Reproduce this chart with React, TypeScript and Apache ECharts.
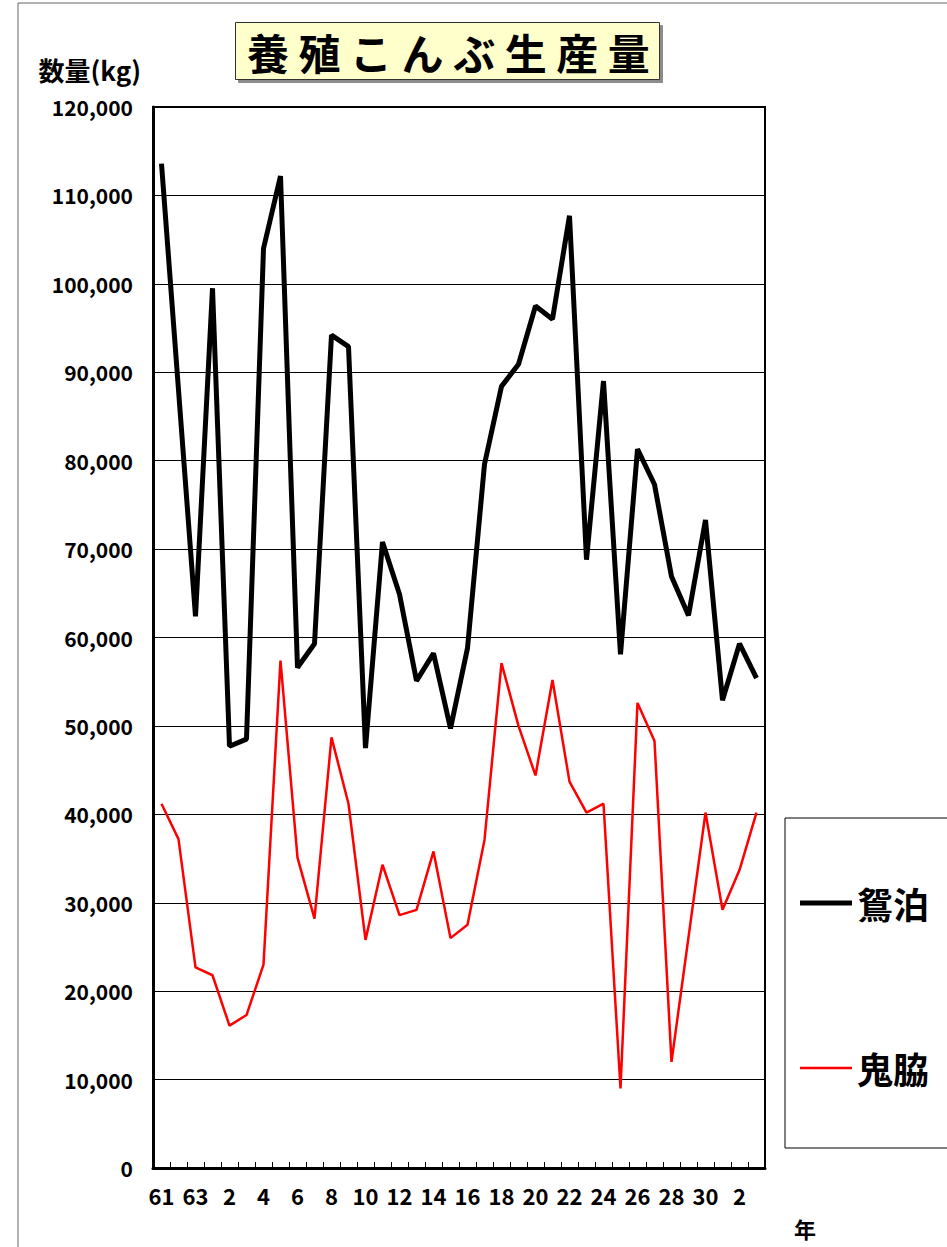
import React, { useEffect, useRef } from "react";
import * as echarts from "echarts";

// 年度（昭和61年〜令和3年）
const categories = [
  "昭和61", "昭和62", "昭和63", "平成元", "平成2", "平成3", "平成4", "平成5", "平成6",
  "平成7", "平成8", "平成9", "平成10", "平成11", "平成12", "平成13", "平成14", "平成15",
  "平成16", "平成17", "平成18", "平成19", "平成20", "平成21", "平成22", "平成23", "平成24",
  "平成25", "平成26", "平成27", "平成28", "平成29", "平成30", "令和元", "令和2", "令和3",
];
const tickLabels = [
  "61", "62", "63", "元", "2", "3", "4", "5", "6", "7", "8", "9", "10", "11", "12", "13", "14",
  "15", "16", "17", "18", "19", "20", "21", "22", "23", "24", "25", "26", "27", "28", "29",
  "30", "元", "2", "3",
];

// 鴛泊 (kg)
const oshidomari = [
  113600, 88000, 62400, 99500, 47700, 48500, 104000, 112200, 56600, 59300, 94200, 92900,
  47500, 70800, 64900, 55100, 58200, 49700, 58800, 79600, 88400, 90900, 97500, 96000,
  107700, 68800, 89000, 58100, 81300, 77300, 66900, 62500, 73300, 52900, 59300, 55400,
];
// 鬼脇 (kg)
const oniwaki = [
  41200, 37200, 22700, 21800, 16100, 17300, 23000, 57400, 35100, 28200, 48700, 41200,
  25800, 34300, 28600, 29200, 35800, 26000, 27500, 37100, 57100, 50000, 44400, 55200,
  43700, 40200, 41200, 9000, 52600, 48300, 12000, 26100, 40200, 29200, 33700, 40200,
];

const FONT = "'Noto Sans CJK JP', 'Noto Sans', sans-serif";

export default function App() {
  const ref = useRef<HTMLDivElement>(null);
  useEffect(() => {
    const chart = echarts.init(ref.current as HTMLDivElement, null, { renderer: "svg" });
    chart.setOption({
      animation: false,
      backgroundColor: "#ffffff",
      textStyle: { fontFamily: FONT },
      title: {
        text: "養 殖 こ ん ぶ 生 産 量",
        left: 235,
        top: 22,
        padding: [8, 10, 8, 12],
        backgroundColor: "#FFFFCC",
        borderColor: "#333333",
        borderWidth: 1,
        shadowColor: "rgba(0,0,0,0.45)",
        shadowOffsetX: 3,
        shadowOffsetY: 3,
        shadowBlur: 0,
        textStyle: { fontSize: 42, fontWeight: "bold", color: "#000", fontFamily: FONT },
      },
      legend: {
        orient: "vertical",
        left: 785,
        top: 818,
        padding: [67, 60, 62, 15],
        itemGap: 129,
        itemWidth: 52,
        itemHeight: 20,
        borderColor: "#000",
        borderWidth: 1,
        backgroundColor: "#fff",
        itemStyle: { borderWidth: 0 },
        textStyle: { fontSize: 36, fontWeight: "bold", color: "#000", fontFamily: FONT },
        data: [
          { name: "鴛泊", icon: "path://M0,0H52V5H0Z" },
          { name: "鬼脇", icon: "path://M0,0H52V2.5H0Z" },
        ],
      },
      graphic: [
        {
          type: "rect",
          silent: true,
          z: -10,
          shape: { x: 18, y: 3, width: 1000, height: 1300 },
          style: { fill: "none", stroke: "#666666", lineWidth: 1 },
        },
        {
          type: "text",
          silent: true,
          x: 805,
          y: 1228,
          style: {
            text: "年",
            fontSize: 22,
            fontWeight: "bold",
            fill: "#000",
            align: "center",
            verticalAlign: "middle",
            fontFamily: FONT,
          },
        },
      ],
      grid: {
        left: 153,
        top: 107,
        width: 612,
        height: 1061,
        show: true,
        borderColor: "#000",
        borderWidth: 2,
        backgroundColor: "transparent",
      },
      xAxis: {
        type: "category",
        data: categories,
        boundaryGap: true,
        axisLine: { lineStyle: { color: "#000", width: 3 } },
        axisTick: { show: true, inside: true, length: 6, interval: 0, lineStyle: { color: "#000", width: 1 } },
        axisLabel: {
          interval: 1,
          formatter: (_v: string, i: number) => tickLabels[i],
          fontSize: 22,
          fontWeight: "bold",
          color: "#000",
          margin: 16,
          fontFamily: FONT,
        },
        splitLine: { show: false },
      },
      yAxis: {
        type: "value",
        min: 0,
        max: 120000,
        interval: 10000,
        axisLine: { show: true, lineStyle: { color: "#000", width: 3 } },
        axisTick: { show: false },
        splitLine: { show: true, lineStyle: { color: "#000", width: 1 } },
        axisLabel: {
          formatter: (v: number) => v.toLocaleString("en-US"),
          fontSize: 21,
          fontWeight: "bold",
          color: "#000",
          margin: 20,
          fontFamily: FONT,
        },
        name: "数量(kg)",
        nameLocation: "end",
        nameGap: 38,
        nameTextStyle: {
          fontSize: 26,
          fontWeight: "bold",
          color: "#000",
          align: "right",
          verticalAlign: "middle",
          padding: [0, 12, 0, 0],
          fontFamily: FONT,
        },
      },
      series: [
        {
          name: "鴛泊",
          type: "line",
          data: oshidomari,
          symbol: "none",
          color: "#000000",
          lineStyle: { color: "#000000", width: 5 },
          itemStyle: { color: "#000000", borderWidth: 0 },
          z: 3,
        },
        {
          name: "鬼脇",
          type: "line",
          data: oniwaki,
          symbol: "none",
          color: "#FF0000",
          lineStyle: { color: "#FF0000", width: 2.5 },
          itemStyle: { color: "#FF0000", borderWidth: 0 },
          z: 2,
        },
      ],
    });
    return () => chart.dispose();
  }, []);
  return (
    <div
      ref={ref}
      style={{ position: "absolute", left: 0, top: 0, width: 947, height: 1247, background: "#fff" }}
    />
  );
}
